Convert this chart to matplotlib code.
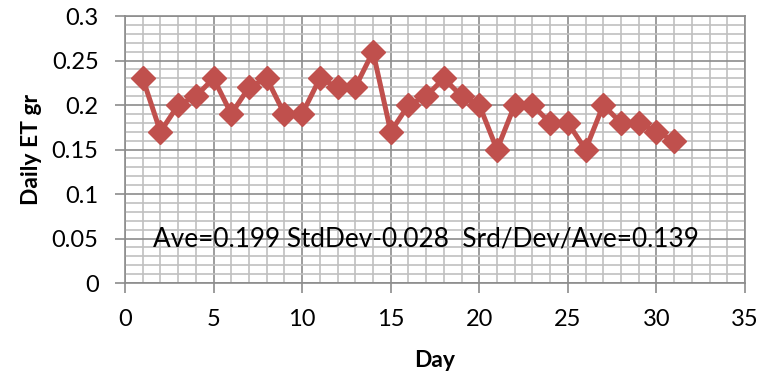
import numpy as np
import matplotlib.pyplot as plt
from matplotlib.ticker import MultipleLocator

# daily ET readings
days = np.arange(1, 32)
et_gr = [0.23, 0.17, 0.20, 0.21, 0.23, 0.19, 0.22, 0.23, 0.19, 0.19,
         0.23, 0.22, 0.22, 0.26, 0.17, 0.20, 0.21, 0.23, 0.21, 0.20,
         0.15, 0.20, 0.20, 0.18, 0.18, 0.15, 0.20, 0.18, 0.18, 0.17, 0.16]
note = "Ave=0.199 StdDev-0.028  Srd/Dev/Ave=0.139"

plt.rcParams['font.family'] = ['Lato', 'DejaVu Sans']

fig = plt.figure(figsize=(7.73, 3.74), dpi=100)
ax = fig.add_axes([0.1617, 0.2433, 0.8021, 0.7137])

ax.set_xlim(0, 35)
ax.set_ylim(0, 0.3)
ax.xaxis.set_major_locator(MultipleLocator(5))
ax.xaxis.set_minor_locator(MultipleLocator(1))
ax.yaxis.set_minor_locator(MultipleLocator(0.01))
ax.set_yticks(np.arange(0, 0.31, 0.05))
ax.set_yticklabels(['0', '0.05', '0.1', '0.15', '0.2', '0.25', '0.3'])

ax.grid(which='minor', color='#c0c0c0', lw=1.2)
ax.grid(which='major', color='#8c8c8c', lw=1.2)
ax.set_axisbelow(True)
for s in ax.spines.values():
    s.set_color('#8c8c8c')
    s.set_linewidth(1.2)

ax.tick_params(which='major', direction='out', length=7, width=1.2,
               color='#8c8c8c', labelsize=17)
ax.tick_params(axis='y', pad=12)
ax.tick_params(axis='x', pad=12)
ax.tick_params(which='minor', length=0)

ax.plot(days, et_gr, color='#C0504D', lw=3.6, marker='D', ms=12,
        markeredgecolor='#C0504D', clip_on=False)

ax.text(1.6, 0.05, note, fontsize=18.8, va='center', ha='left')

ax.set_xlabel('Day', fontsize=16.5, fontweight='bold', labelpad=14)
ax.set_ylabel('Daily ET gr', fontsize=16.5, fontweight='bold', labelpad=7)

fig.savefig('out.png', dpi=100)
